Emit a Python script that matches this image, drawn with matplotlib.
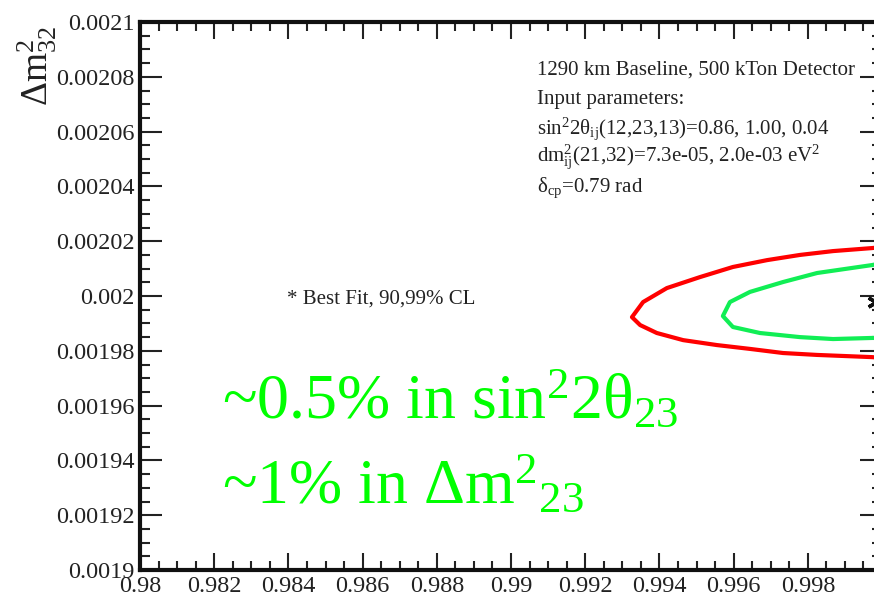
import numpy as np
import matplotlib
matplotlib.use('Agg')
import matplotlib.pyplot as plt
from matplotlib.ticker import FixedLocator, FixedFormatter, MultipleLocator

# axis ticks (the label at 1 falls outside the frame and stays blank)
x_ticks = [0.98, 0.982, 0.984, 0.986, 0.988, 0.99, 0.992, 0.994, 0.996, 0.998, 1.0]
x_tick_labels = ['0.98', '0.982', '0.984', '0.986', '0.988', '0.99',
                 '0.992', '0.994', '0.996', '0.998', '']
y_ticks = [0.0019, 0.00192, 0.00194, 0.00196, 0.00198, 0.002,
           0.00202, 0.00204, 0.00206, 0.00208, 0.0021]
y_tick_labels = ['0.0019', '0.00192', '0.00194', '0.00196', '0.00198', '0.002',
                 '0.00202', '0.00204', '0.00206', '0.00208', '0.0021']

# 99% CL contour (red)
red_x = [1.0, 0.99973, 0.99868, 0.99779, 0.99690, 0.99598, 0.99509, 0.99420, 0.99356,
         0.99326, 0.99348, 0.99393, 0.99464, 0.99555, 0.99644, 0.99733, 0.99825,
         0.99973, 1.0]
red_y = [0.0020179, 0.0020175, 0.0020164, 0.0020150, 0.0020131, 0.0020106, 0.0020069,
         0.0020029, 0.0019978, 0.0019923, 0.0019894, 0.0019865, 0.0019839, 0.0019821,
         0.0019807, 0.0019792, 0.0019785, 0.0019777, 0.0019774]

# 90% CL contour (green)
green_x = [1.0, 0.99973, 0.99825, 0.99733, 0.99644, 0.99590, 0.99571, 0.99598,
           0.99671, 0.99779, 0.99868, 0.99973, 1.0]
green_y = [0.0020120, 0.0020113, 0.0020084, 0.0020051, 0.0020015, 0.0019978, 0.0019927,
           0.0019887, 0.0019865, 0.0019850, 0.0019843, 0.0019847, 0.0019847]

best_fit_x = [0.99984]
best_fit_y = [0.0019978]

info_lines = [
    '1290 km Baseline, 500 kTon Detector',
    'Input parameters:',
    r'sin$^{2}$2θ$_{ij}$(12,23,13)=0.86, 1.00, 0.04',
    r'dm$^{2}_{ij}$(21,32)=7.3e-05, 2.0e-03 eV$^{2}$',
    r'δ$_{cp}$=0.79 rad',
]

plt.rcParams['font.family'] = ['Liberation Serif', 'DejaVu Serif']
plt.rcParams['mathtext.fontset'] = 'custom'
plt.rcParams['mathtext.rm'] = 'Liberation Serif'
plt.rcParams['mathtext.it'] = 'Liberation Serif:italic'
plt.rcParams['mathtext.default'] = 'rm'

fig = plt.figure(figsize=(8.74, 5.97), dpi=100)
# frame runs past the right edge of the figure
ax = fig.add_axes([0.1602, 0.0452, 0.849, 0.9179])

ax.plot(red_x, red_y, color='#ff0000', lw=3)
ax.plot(green_x, green_y, color='#11ee55', lw=3)
ax.plot(best_fit_x, best_fit_y, ls='none', marker=(6, 2, 0), ms=13, mew=2.5, color='#111111')

ax.set_xlim(0.98, 1.0)
ax.set_ylim(0.0019, 0.0021)
ax.xaxis.set_major_locator(FixedLocator(x_ticks))
ax.xaxis.set_major_formatter(FixedFormatter(x_tick_labels))
ax.yaxis.set_major_locator(FixedLocator(y_ticks))
ax.yaxis.set_major_formatter(FixedFormatter(y_tick_labels))
ax.xaxis.set_minor_locator(MultipleLocator(0.0005))
ax.yaxis.set_minor_locator(MultipleLocator(0.000005))

ax.tick_params(which='both', direction='in', top=True, right=True, width=1.5, color='#222222')
ax.tick_params(axis='x', which='major', length=12.5, pad=4, labelsize=17.5)
ax.tick_params(axis='x', which='minor', length=6.5)
ax.tick_params(axis='y', which='major', length=16, pad=4, labelsize=17.5)
ax.tick_params(axis='y', which='minor', length=7)
for sp in ax.spines.values():
    sp.set_linewidth(3)
    sp.set_color('#111111')
for lab in ax.get_xticklabels() + ax.get_yticklabels():
    lab.set_color('#222222')

fig.text(37 / 874, 1 - 26 / 597, r'Δm$^{2}_{32}$', rotation=90, ha='center', va='top',
         fontsize=27, color='#222222')

baselines = [0.9033, 0.8504, 0.7956, 0.7445, 0.6898]
for line, yb in zip(info_lines, baselines):
    ax.text(0.535, yb, line, transform=ax.transAxes, ha='left', va='baseline',
            fontsize=15, color='#222222')

ax.text(0.198, 0.4854, '* Best Fit, 90,99% CL', transform=ax.transAxes,
        ha='left', va='baseline', fontsize=15, color='#222222')

ax.text(0.1105, 0.2774, r'~0.5% in sin$^{2}$2θ$_{23}$', transform=ax.transAxes,
        ha='left', va='baseline', fontsize=46, color='#00ff00')
ax.text(0.1105, 0.1223, r'~1% in Δm$^{2}$$_{23}$', transform=ax.transAxes,
        ha='left', va='baseline', fontsize=46, color='#00ff00')

fig.savefig('out.png', dpi=100)
